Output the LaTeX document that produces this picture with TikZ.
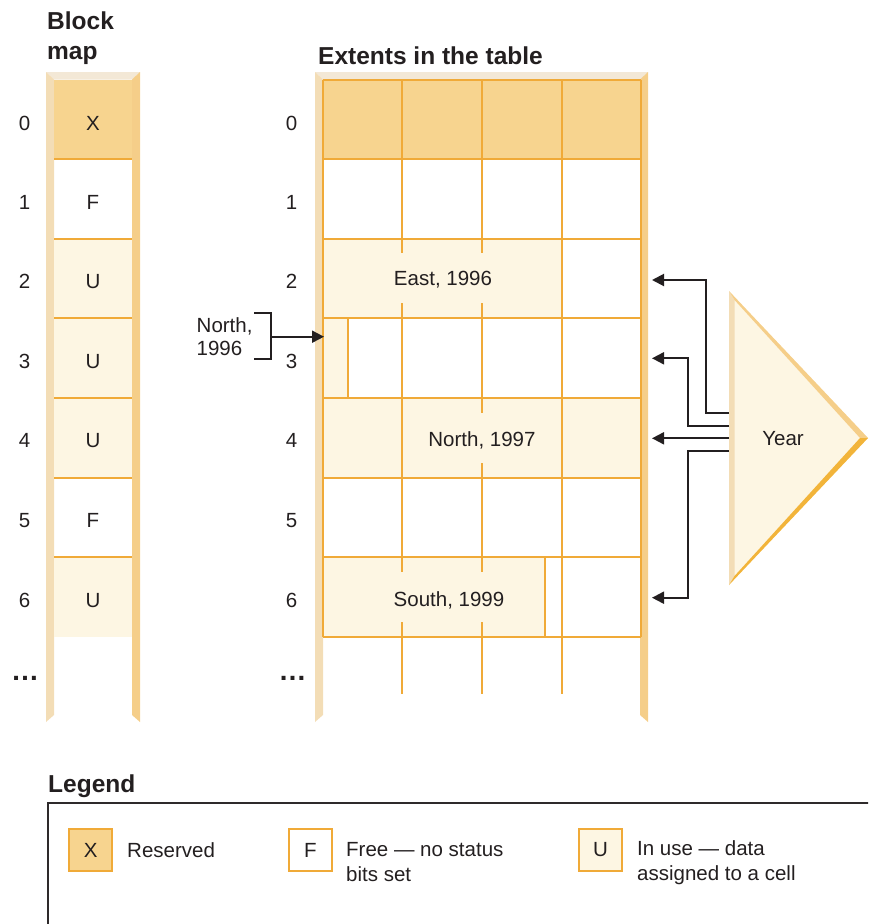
\documentclass[tikz,border=0pt]{standalone}
\usepackage{fontspec}
\setmainfont{Liberation Sans}
\usetikzlibrary{arrows.meta}
\definecolor{xfill}{HTML}{F7D48F}
\definecolor{ufill}{HTML}{FDF6E3}
\definecolor{gridor}{HTML}{F0AA38}
\definecolor{railL}{HTML}{F3DDB6}
\definecolor{railR}{HTML}{F5CE89}
\definecolor{bevel}{HTML}{F3E8D6}
\definecolor{ink}{HTML}{231F20}
\definecolor{triDark}{HTML}{F2B43A}
\begin{document}
\begin{tikzpicture}[x=1pt,y=-1pt,
  lbl/.style={font=\fontsize{20.5}{25}\selectfont, text=ink, inner sep=0pt, anchor=base},
  ttl/.style={font=\fontsize{24.5}{29.4}\selectfont\bfseries, text=ink, inner sep=0pt, align=left},
  dots/.style={font=\fontsize{28}{32}\selectfont\bfseries, text=ink, inner sep=0pt, anchor=base},
  gl/.style={draw=gridor, line width=2pt},
  conn/.style={draw=ink, line width=2pt},
  arr/.style={conn, -{Triangle[length=12pt,width=12pt]}},
  legbox/.style={draw=gridor, line width=2pt, minimum width=43pt, minimum height=42pt, inner sep=0pt,
                 font=\fontsize{20.5}{25}\selectfont, text=ink},
  legtxt/.style={font=\fontsize{20.5}{25}\selectfont, text=ink, inner sep=0pt, align=left, anchor=west},
]
\useasboundingbox (0,0) rectangle (868,924);
\clip (0,0) rectangle (868,924);

% ---------- titles ----------
\node[ttl, anchor=north west] (tblock) at (47,12) {Block\\map};
\node[ttl, anchor=base west] (ttable) at (318,64) {Extents in the table};
\node[ttl, anchor=base west] (tlegend) at (48,792) {Legend};

% ---------- block map ----------
\fill[bevel] (46,72) -- (140,72) -- (132,79.5) -- (54,79.5) -- cycle;
\fill[railL] (46,72) -- (54,79.5) -- (54,715) -- (46,722) -- cycle;
\fill[railR] (140,72) -- (132,79.5) -- (132,715) -- (140,722) -- cycle;
\fill[xfill] (54,79.5) rectangle (132,159.1);
\fill[ufill] (54,238.7) rectangle (132,477.5);
\fill[ufill] (54,557.1) rectangle (132,636.7);
\foreach \y in {159.1,238.7,318.3,397.9,477.5,557.1}
  \draw[gl] (54,\y) -- (132,\y);

\foreach \t/\c [count=\i from 0] in {X/123,F/202.5,U/281.5,U/361,U/440.5,F/520,U/600}{
  \node[lbl] (bm\i) at (93,\c+7.3) {\t};
  \node[lbl] (bl\i) at (24.5,\c+7.3) {\i};
  \node[lbl] (tl\i) at (291.5,\c+7.3) {\i};
}
\node[dots] (bdots) at (25,680) {…};
\node[dots] (tdots) at (292.5,680) {…};

% ---------- table ----------
\fill[bevel] (315,72) -- (648,72) -- (640,79.5) -- (323,79.5) -- cycle;
\fill[railL] (315,72) -- (323,79.5) -- (323,715) -- (315,722) -- cycle;
\fill[railR] (648,72) -- (640,79.5) -- (640,715) -- (648,722) -- cycle;

\fill[xfill] (323,79.5) rectangle (641,159.1);
\fill[ufill] (323,238.7) rectangle (562,318.3);
\fill[ufill] (323,318.3) rectangle (348,397.9);
\fill[ufill] (323,397.9) rectangle (641,477.5);
\fill[ufill] (323,557.1) rectangle (545,636.7);

\foreach \y in {79.5,159.1,238.7,318.3,397.9,477.5,557.1,636.7}
  \draw[gl] (323,\y) -- (641,\y);
\draw[gl] (323,79.5) -- (323,636.7);
\draw[gl] (641,79.5) -- (641,636.7);
\draw[gl] (562,79.5) -- (562,694);
% column line x=402
\draw[gl] (402,79.5) -- (402,253);
\draw[gl] (402,303) -- (402,572);
\draw[gl] (402,622) -- (402,694);
% column line x=482
\draw[gl] (482,79.5) -- (482,253);
\draw[gl] (482,303) -- (482,413);
\draw[gl] (482,463) -- (482,572);
\draw[gl] (482,622) -- (482,694);
\draw[gl] (348,318.3) -- (348,397.9);
\draw[gl] (545,557.1) -- (545,636.7);

\node[lbl] (east) at (443,285.3) {East, 1996};
\node[lbl] (north97) at (482,446.3) {North, 1997};
\node[lbl] (south) at (449,606.3) {South, 1999};

% ---------- North, 1996 pointer ----------
\node[font=\fontsize{20.5}{23}\selectfont, text=ink, inner sep=0pt, align=left, anchor=west] (north96) at (196.5,337) {North,\\1996};
\coordinate (brT) at (254,313);
\coordinate (brB) at (254,359);
\coordinate (brM) at (270.7,336.7);
\coordinate (row3in) at (324,336.7);
\draw[conn] (brT) -- (270.7,313) -- (270.7,359) -- (brB);
\draw[arr] (brM) -- (row3in);

% ---------- Year triangle ----------
\coordinate (yT) at (729,291);
\coordinate (yB) at (729,585);
\coordinate (yA) at (868,438);
\fill[ufill] (yT) -- (yA) -- (yB) -- cycle;
\fill[railL] (yT) -- (734.5,300) -- (734.5,576) -- (yB) -- cycle;
\fill[railR] (yT) -- (yA) -- (860,438) -- (734.5,300) -- cycle;
\fill[triDark] (yB) -- (yA) -- (860,438) -- (734.5,576) -- cycle;
\node[lbl] (year) at (783,445.5) {Year};

\coordinate (yo1) at (729,413.3);
\coordinate (yo2) at (729,426);
\coordinate (yo3) at (729,438.3);
\coordinate (yo4) at (729,450.7);
\coordinate (tip2) at (652,280);
\coordinate (tip3) at (652,358.3);
\coordinate (tip4) at (652,438.3);
\coordinate (tip6) at (652,597.7);
\draw[arr] (yo1) -- (705.7,413.3) |- (tip2);
\draw[arr] (yo2) -- (687.7,426) |- (tip3);
\draw[arr] (yo3) -- (tip4);
\draw[arr] (yo4) -- (687.7,450.7) |- (tip6);

% ---------- legend ----------
\draw[draw=ink!95, line width=1.8pt] (48,960) -- (48,803) -- (900,803);
\node[legbox, fill=xfill] (lx) at (90.75,850) {X};
\node[legtxt] (lxt) at (127,850) {Reserved};
\node[legbox, fill=white] (lf) at (310.5,850) {F};
\node[legtxt] (lft) at (346,862.5) {Free — no status\\bits set};
\node[legbox, fill=ufill] (lu) at (600.5,850) {U};
\node[legtxt] (lut) at (637,862.5) {In use — data\\assigned to a cell};
\end{tikzpicture}
\end{document}
